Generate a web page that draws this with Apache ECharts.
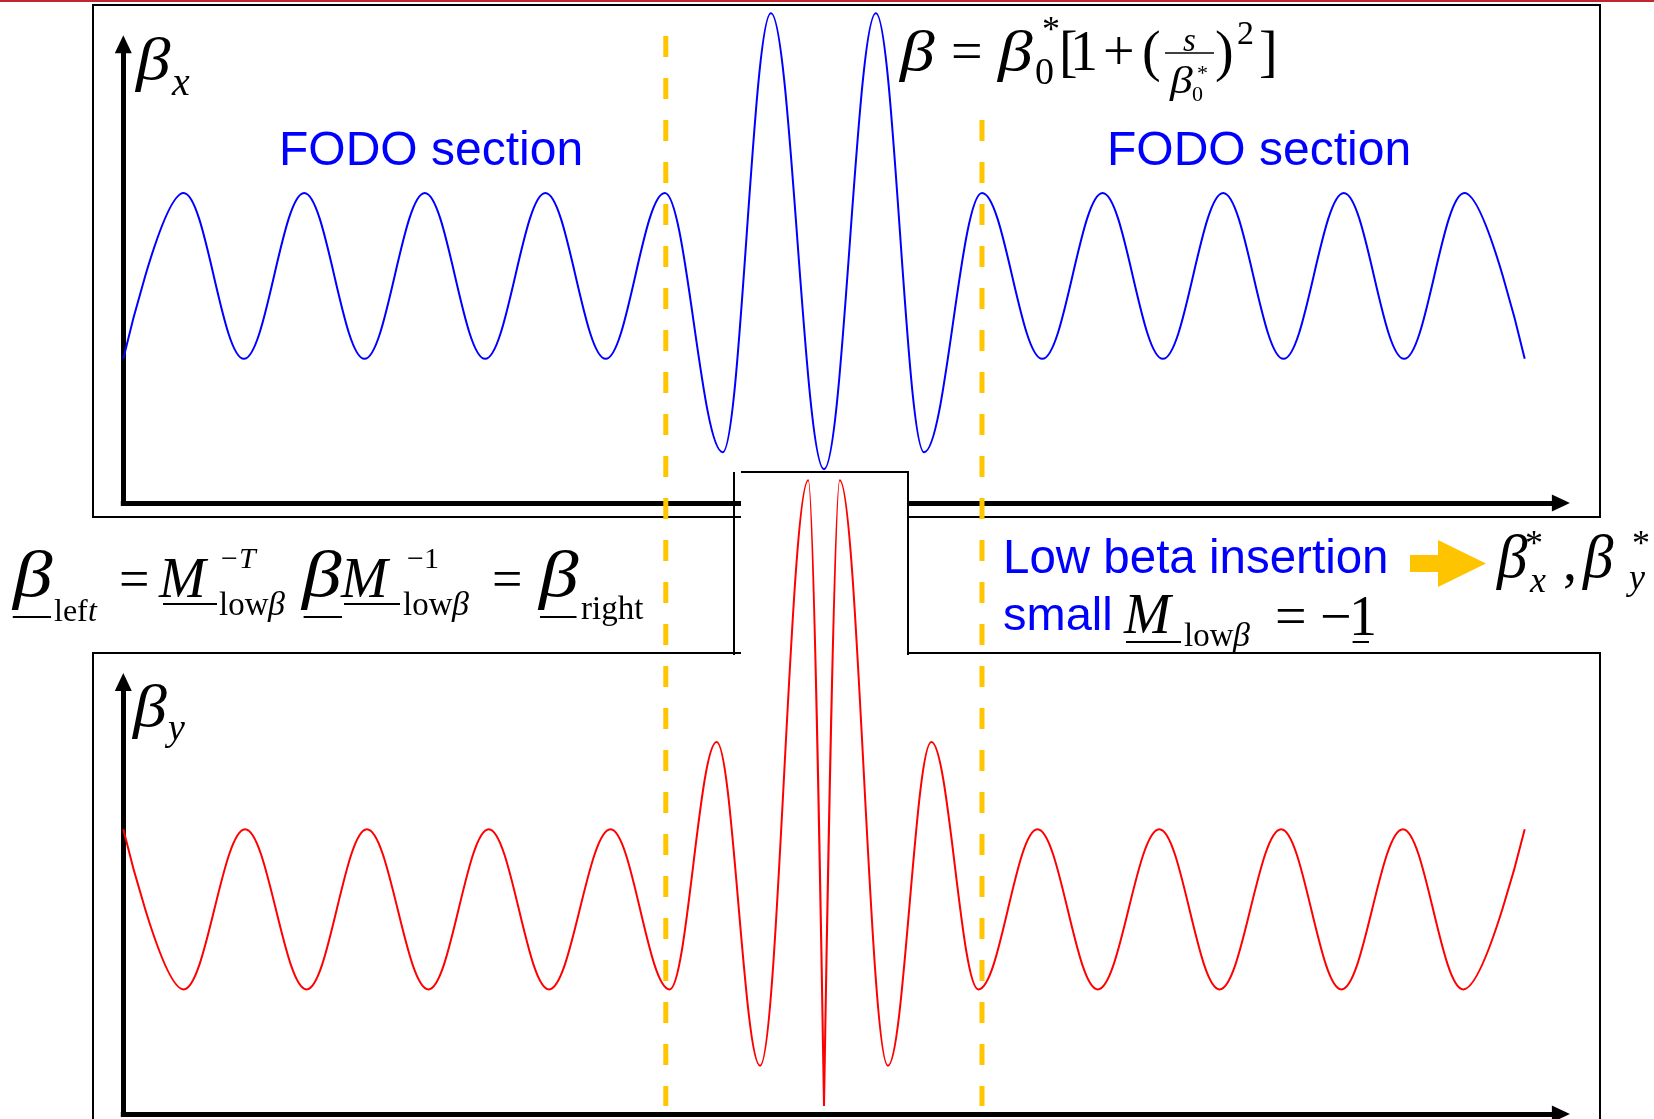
<!DOCTYPE html>
<html>
<head>
<meta charset="utf-8">
<script src="https://cdn.jsdelivr.net/npm/echarts@6/dist/echarts.min.js"></script>
<style>
  html, body { margin: 0; padding: 0; background: #fff; }
  #chart { width: 1654px; height: 1119px; }
</style>
</head>
<body>
<div id="chart"></div>
<script>
// Longitudinal position s (m) of the turning points of the horizontal beta function
const sX = [0, 5.0, 10.0, 15.0, 20.0, 25.0, 30.0, 35.0, 40.0, 44.9, 49.7, 53.7, 58.1,
            62.4, 66.4, 71.2, 76.2, 81.2, 86.2, 91.2, 96.2, 101.2, 106.2, 111.2, 116.2];
// beta_x at those points (m)
const betaX = [46.5, 100, 46.5, 100, 46.5, 100, 46.5, 100, 46.5, 100, 16.4, 158, 10.9,
               158, 16.4, 100, 46.5, 100, 46.5, 100, 46.5, 100, 46.5, 100, 46.5];

// Turning points of the vertical beta function
const sY = [0, 5.0, 10.1, 15.2, 20.2, 25.3, 30.3, 35.3, 40.4, 45.3, 49.2, 52.8, 56.8, 58.1,
            59.4, 63.4, 67.0, 70.9, 75.8, 80.8, 85.9, 90.9, 96.0, 101.0, 106.1, 111.1, 116.2];
const betaY = [91.9, 40.2, 91.9, 40.2, 91.9, 40.2, 91.9, 40.2, 91.9, 40.2, 120, 15.6, 204.5, 2.6,
               204.5, 15.6, 120, 40.2, 91.9, 40.2, 91.9, 40.2, 91.9, 40.2, 91.9, 40.2, 91.9];

// Start and end of the low-beta insertion (m)
const insertionEdges = [44.98, 71.2];

// Axis ranges
const sMax = 119.2;
const betaXMax = 148;
const betaYMax = 139.4;

const chart = echarts.init(document.getElementById('chart'), null, { renderer: 'canvas' });

function pairs(xs, ys) { return xs.map((x, i) => [x, ys[i]]); }

function axisLine(symbolSize) {
  return {
    show: true, onZero: false,
    symbol: ['none', 'triangle'], symbolSize: symbolSize,
    lineStyle: { color: '#000', width: 5, cap: 'square' }
  };
}
function xAx(gi) {
  return { type: 'value', gridIndex: gi, min: 0, max: sMax,
    axisLine: axisLine([17, 18]), axisTick: { show: false }, axisLabel: { show: false }, splitLine: { show: false } };
}
function yAx(gi, max) {
  return { type: 'value', gridIndex: gi, min: 0, max: max,
    axisLine: axisLine([17, 18]), axisTick: { show: false }, axisLabel: { show: false }, splitLine: { show: false } };
}

// the vertical curve is split at its deepest point so the waist is drawn as a sharp cusp
const iMinY = betaY.indexOf(Math.min.apply(null, betaY));
const redA = pairs(sY.slice(0, iMinY + 1), betaY.slice(0, iMinY + 1));
const redB = pairs(sY.slice(iMinY), betaY.slice(iMinY));

function curve(xi, data, color) {
  return {
    type: 'line', xAxisIndex: xi, yAxisIndex: xi, data: data,
    showSymbol: false, symbol: 'none', smooth: 0.364, smoothMonotone: 'x',
    clip: false, silent: true, z: 3,
    lineStyle: { color: color, width: 2 }
  };
}

chart.setOption({
  animation: false,
  backgroundColor: '#ffffff',
  grid: [
    { left: 123.3, top: 44.2, width: 1437.6, height: 458.8 },
    { left: 123.3, top: 682, width: 1437.6, height: 432 }
  ],
  xAxis: [xAx(0), xAx(1)],
  yAxis: [yAx(0, betaXMax), yAx(1, betaYMax)],
  series: [
    curve(0, pairs(sX, betaX), '#0000FF'),
    curve(1, redA, '#FF0000'),
    curve(1, redB, '#FF0000')
  ]
});

// ---------- annotations ----------
const G = [];
const SERIF = 'Liberation Serif', SANS = 'Liberation Sans';

// x: left of the text, base: baseline
function txt(str, x, base, size, opt) {
  opt = opt || {};
  const sans = !!opt.sans;
  const k = sans ? 0.31 : 0.225;
  G.push({
    type: 'text', x: x, y: base - k * size, z: 5, silent: true,
    scaleX: opt.sx || 1,
    style: {
      text: str, fontSize: size, fontFamily: sans ? SANS : SERIF,
      fontStyle: opt.it ? 'italic' : 'normal', fill: opt.color || '#000',
      align: 'left', verticalAlign: 'middle', textAlign: 'left', textVerticalAlign: 'middle'
    }
  });
}
function seg(x1, y1, x2, y2, color, w, z, dash) {
  const st = { stroke: color, lineWidth: w };
  if (dash) st.lineDash = dash;
  G.push({ type: 'line', silent: true, z: z, shape: { x1: x1, y1: y1, x2: x2, y2: y2 }, style: st });
}
const IT = { it: true };
function beta(sx) { return { it: true, sx: sx }; }

// page rule and panel frames
seg(0, 1, 1654, 1, '#C0262D', 2, 1);
G.push({ type: 'rect', silent: true, z: 1, shape: { x: 93, y: 5, width: 1507, height: 512 },
  style: { fill: null, stroke: '#000', lineWidth: 2 } });
G.push({ type: 'polyline', silent: true, z: 1, shape: { points: [[93, 1130], [93, 653], [1600, 653], [1600, 1130]] },
  style: { fill: null, stroke: '#000', lineWidth: 2 } });

// window around the interaction region
G.push({ type: 'rect', silent: true, z: 2, shape: { x: 741, y: 473, width: 166, height: 183 },
  style: { fill: '#fff', stroke: null } });
seg(734, 472, 734, 655, '#000', 2, 2);
G.push({ type: 'polyline', silent: true, z: 2, shape: { points: [[741, 472], [908, 472], [908, 655]] },
  style: { fill: null, stroke: '#000', lineWidth: 2 } });

// insertion boundaries, placed through the s axis
const yellow = '#FFC600';
const xL = chart.convertToPixel({ xAxisIndex: 0 }, insertionEdges[0]);
const xR = chart.convertToPixel({ xAxisIndex: 0 }, insertionEdges[1]);
seg(xL, 36, xL, 1106, yellow, 5, 2, [21, 21]);
seg(xR, 120, xR, 1106, yellow, 5, 2, [21, 21]);

// axis titles
txt('β', 136, 77, 60, beta(1.15));
txt('x', 172, 93, 40, IT);
txt('β', 133, 724, 59, beta(1.15));
txt('y', 168, 739, 38, IT);

// section labels
txt('FODO section', 279, 167, 48, { sans: true, color: '#0000FF' });
txt('FODO section', 1107, 167, 48, { sans: true, color: '#0000FF' });

// beta = beta0* [1 + (s / beta0*)^2]
txt('β', 900, 68, 58, beta(1.2));
txt('=', 951, 68, 56);
txt('β', 998, 68, 58, beta(1.2));
txt('*', 1042, 40, 36);
txt('0', 1035, 83, 38);
txt('[', 1059, 68, 56);
txt('1', 1070, 68, 56);
txt('+', 1103, 68, 56);
txt('(', 1142, 68, 56);
txt('s', 1183, 50, 33, IT);
seg(1165, 53, 1214, 53, '#000', 1.5, 5);
txt('β', 1170, 92, 38, beta(1.2));
txt('*', 1197, 79, 22);
txt('0', 1192, 100, 22);
txt(')', 1215, 68, 56);
txt('2', 1237, 43, 34);
txt(']', 1259, 68, 56);

// beta_left = M^-T beta M^-1 = beta_right
txt('β', 13, 594, 66, beta(1.2));
seg(12.8, 617, 51, 617, '#000', 2, 5);
txt('lef', 54, 620, 32);
txt('t', 88, 620, 32, IT);
txt('=', 119, 595, 54);
txt('M', 159, 595, 56, IT);
seg(163, 604, 217, 604, '#000', 2, 5);
txt('−', 221, 567, 30);
txt('T', 239, 567, 30, IT);
txt('low', 219, 614, 33);
txt('β', 268, 614, 34, IT);
txt('β', 302, 594, 66, beta(1.2));
seg(303.6, 617, 342, 617, '#000', 2, 5);
txt('M', 341, 595, 56, IT);
seg(344, 604, 400, 604, '#000', 2, 5);
txt('−', 407, 567, 30);
txt('1', 424, 567, 30);
txt('low', 403, 614, 33);
txt('β', 452, 614, 34, IT);
txt('=', 492, 595, 54);
txt('β', 539, 594, 66, beta(1.2));
seg(540, 617, 576.5, 617, '#000', 2, 5);
txt('right', 581, 618, 33);

// low-beta insertion note
txt('Low beta insertion', 1003, 575, 47.5, { sans: true, color: '#0000FF' });
txt('small', 1003, 632, 47, { sans: true, color: '#0000FF' });
txt('M', 1124, 631, 56, IT);
seg(1126, 642, 1181, 642, '#000', 2, 5);
txt('low', 1184, 645, 33);
txt('β', 1233, 645, 34, IT);
txt('=', 1275, 633, 56);
txt('−', 1320, 633, 56);
txt('1', 1349, 633, 56);
seg(1352.6, 642, 1369, 642, '#000', 2, 5);

G.push({ type: 'polygon', silent: true, z: 5,
  shape: { points: [[1410, 555], [1438, 555], [1438, 540], [1486, 563.5], [1438, 587], [1438, 572], [1410, 572]] },
  style: { fill: '#FFC400' } });
txt('β', 1497, 575, 61, IT);
txt('*', 1525, 554, 36);
txt('x', 1530, 591, 36, IT);
txt(',', 1563, 578, 56);
txt('β', 1583, 575, 61, IT);
txt('*', 1632, 554, 36);
txt('y', 1629, 588, 36, IT);

chart.setOption({ graphic: { elements: G } });
</script>
</body>
</html>
